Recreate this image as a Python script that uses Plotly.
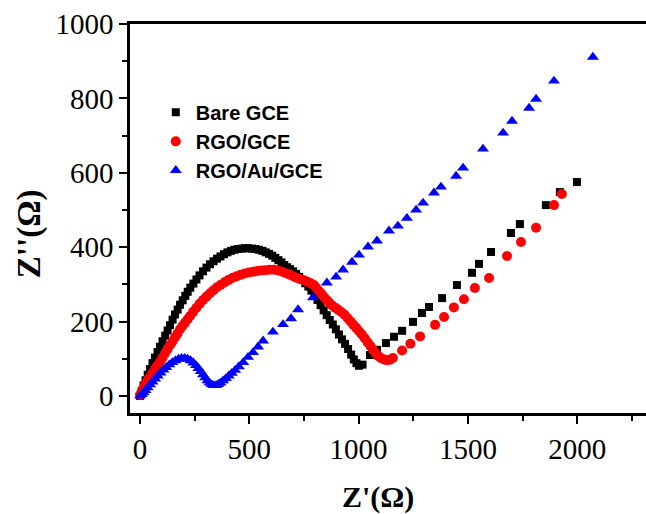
import plotly.graph_objects as go

# Nyquist plots (Z' vs -Z'') for three electrodes
bare_x = [0, 8, 16, 25, 35, 46, 57, 68, 80, 91, 103, 115, 126, 137, 149, 160, 172, 183, 195, 207,
          218, 230, 244, 258, 272, 288, 304, 320, 336, 352, 368, 384, 400, 416, 432, 448, 464, 480, 496, 512,
          528, 544, 560, 575, 590, 605, 619, 633, 647, 660, 673, 686, 700, 714, 728, 742, 756, 770, 784, 798,
          812, 826, 840, 854, 868, 882, 896, 910, 924, 938, 952, 966, 978, 990, 1002, 1018, 1052, 1084, 1125, 1162,
          1199, 1249, 1290, 1322, 1382, 1450, 1519, 1551, 1606, 1697, 1738, 1857, 1921, 1999]
bare_y = [0, 14, 28, 42, 57, 72, 88, 103, 118, 132, 147, 162, 176, 190, 205, 219, 232, 245, 257, 269,
          280, 291, 302, 313, 324, 335, 345, 354, 362, 369, 375, 381, 386, 390, 393, 395, 396, 397, 397, 396,
          395, 393, 390, 386, 382, 377, 371, 365, 359, 352, 346, 341, 335, 328, 320, 312, 303, 294, 283, 271,
          258, 244, 230, 217, 204, 192, 179, 165, 152, 140, 126, 111, 98, 88, 81, 84, 110, 124, 142, 159,
          175, 199, 223, 239, 263, 298, 331, 355, 387, 438, 462, 513, 548, 575]

rgo_x = [0, 9, 18, 28, 38, 48, 58, 69, 80, 91, 102, 114, 125, 137, 148, 160, 171, 183, 194, 206,
         218, 229, 243, 258, 273, 288, 304, 320, 336, 352, 370, 388, 406, 425, 443, 461, 479, 498, 517, 536,
         555, 574, 593, 612, 631, 650, 668, 685, 702, 718, 734, 750, 766, 781, 795, 807, 818, 829, 840, 852,
         865, 879, 893, 908, 922, 936, 950, 963, 976, 989, 1002, 1015, 1028, 1041, 1054, 1066, 1078, 1090, 1103, 1116,
         1130, 1144, 1157, 1199, 1237, 1281, 1350, 1391, 1436, 1482, 1532, 1597, 1679, 1743, 1812, 1894, 1930]
rgo_y = [3, 14, 24, 35, 45, 52, 62, 72, 82, 91, 102, 114, 125, 136, 146, 157, 167, 179, 188, 197,
         206, 215, 226, 237, 248, 258, 267, 276, 284, 292, 299, 306, 312, 318, 322, 326, 329, 332, 334, 336,
         337, 338, 339, 339, 337, 334, 330, 326, 321, 317, 314, 311, 307, 303, 298, 290, 282, 275, 267, 259,
         251, 243, 237, 231, 225, 218, 209, 200, 191, 183, 174, 165, 155, 144, 134, 124, 115, 107, 101, 98,
         96, 97, 102, 122, 140, 160, 191, 212, 238, 260, 290, 317, 376, 414, 452, 513, 543]

au_x = [0, 8, 16, 25, 35, 46, 57, 69, 81, 94, 107, 120, 134, 148, 162, 176, 190, 204, 218, 231,
        244, 256, 267, 278, 288, 298, 308, 318, 328, 338, 348, 358, 368, 380, 393, 406, 420, 435, 452, 472,
        494, 517, 540, 563, 608, 654, 691, 723, 791, 855, 897, 929, 970, 1002, 1043, 1084, 1139, 1180, 1221, 1263,
        1295, 1345, 1377, 1446, 1478, 1569, 1661, 1702, 1780, 1812, 1894, 2072]
au_y = [0, 4, 9, 15, 22, 30, 38, 46, 54, 62, 70, 77, 84, 90, 95, 99, 101, 101, 99, 95,
        89, 82, 74, 66, 57, 49, 41, 35, 30, 28, 28, 31, 35, 41, 47, 54, 61, 69, 79, 90,
        104, 117, 132, 148, 172, 192, 208, 232, 264, 304, 320, 339, 360, 379, 401, 417, 444, 457, 478, 500,
        519, 546, 562, 591, 613, 664, 707, 739, 774, 798, 847, 911]

x_ticks = [0, 500, 1000, 1500, 2000]
y_ticks = [0, 200, 400, 600, 800, 1000]

fig = go.Figure()
fig.add_trace(go.Scatter(x=bare_x, y=bare_y, mode="markers", name="Bare GCE",
                         marker=dict(symbol="square", size=8, color="#000000")))
fig.add_trace(go.Scatter(x=rgo_x, y=rgo_y, mode="markers", name="RGO/GCE",
                         marker=dict(symbol="circle", size=10, color="#FF0000")))
fig.add_trace(go.Scatter(x=au_x, y=au_y, mode="markers", name="RGO/Au/GCE",
                         marker=dict(symbol="triangle-up", size=10.5, color="#0000FF")))

serif = "Liberation Serif, Times New Roman, serif"
tick_font = dict(family=serif, size=29, color="black")
axis_common = dict(
    ticks="outside", ticklen=8, tickwidth=2, tickcolor="black",
    showline=True, linewidth=2.5, linecolor="black",
    showgrid=False, zeroline=False, tickfont=tick_font,
)

fig.update_layout(
    width=646, height=514,
    margin=dict(l=130, r=0, t=24, b=101, pad=0),
    paper_bgcolor="white", plot_bgcolor="white",
    showlegend=True,
    xaxis=dict(range=[-46, 2315], tickvals=x_ticks, mirror=True,
               minor=dict(dtick=250, tick0=0, ticks="outside", ticklen=5, tickwidth=2,
                          tickcolor="black", showgrid=False),
               **axis_common),
    yaxis=dict(range=[-46, 1000], tickvals=y_ticks, mirror=False,
               minor=dict(dtick=100, tick0=0, ticks="outside", ticklen=5, tickwidth=2,
                          tickcolor="black", showgrid=False),
               **axis_common),
    legend=dict(x=0.05, y=0.823, xanchor="left", yanchor="top",
                bgcolor="rgba(0,0,0,0)", borderwidth=0, tracegroupgap=0,
                font=dict(family="Liberation Sans, Arial, sans-serif", size=20,
                          color="black", weight="bold")),
    annotations=[
        dict(text="Z'(Ω)", xref="paper", yref="paper", x=0.4806, y=-0.216,
             xanchor="center", yanchor="middle", showarrow=False,
             font=dict(family=serif, size=30, color="black", weight="bold")),
        dict(text="Z''(Ω)", xref="paper", yref="paper", x=-0.196, y=0.462,
             xanchor="center", yanchor="middle", showarrow=False, textangle=-90,
             font=dict(family=serif, size=33, color="black", weight="bold")),
    ],
)

fig.write_html("out.html")
